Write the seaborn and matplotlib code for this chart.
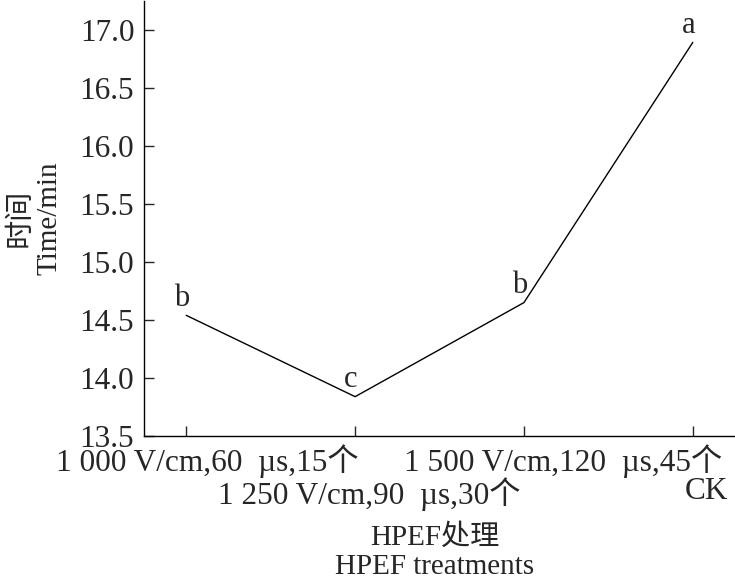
import numpy as np
import matplotlib
matplotlib.use("Agg")
import matplotlib.pyplot as plt
import matplotlib.transforms as mtransforms
import seaborn as sns

# data
treatments = [
    "1 000 V/cm,60  µs,15个",
    "1 250 V/cm,90  µs,30个",
    "1 500 V/cm,120  µs,45个",
    "CK",
]
time_min = [14.54, 13.84, 14.65, 16.89]
letters = ["b", "c", "b", "a"]

sns.set_style("ticks")
plt.rcParams["font.family"] = ["Liberation Serif", "Noto Sans CJK SC"]

fig = plt.figure(figsize=(7.35, 5.8), dpi=100)
ax = fig.add_axes([0.196, 0.248, 0.804, 0.751])

x = np.arange(len(treatments))
sns.lineplot(x=x, y=time_min, sort=False, color="black", linewidth=1.0, ax=ax)

for xi, yi, lab in zip(x, time_min, letters):
    ax.annotate(lab, (xi, yi), xytext=(-3, 7), textcoords="offset points",
                ha="center", va="baseline", fontsize=22)

ax.set_xlim(-0.25, 3.25)
ax.set_ylim(13.5, 17.25)
yt = np.arange(13.5, 17.01, 0.5)
ax.set_yticks(yt)
ax.set_yticklabels([f"{v:.1f}" for v in yt])
ax.set_xticks(x)
ax.set_xticklabels(treatments)

ax.tick_params(direction="in", length=7, width=1, labelsize=22.5)
ax.tick_params(axis="y", pad=7)
ax.tick_params(axis="x", pad=6)

# staggered tick labels, two rows, shifted a bit right as in the original
shifts_px = [(21, 0), (14, -33), (39, 0), (14, -33)]
for lbl, (dx, dy) in zip(ax.get_xticklabels(), shifts_px):
    lbl.set_transform(lbl.get_transform() +
                      mtransforms.ScaledTranslation(dx / 100, dy / 100, fig.dpi_scale_trans))

sns.despine(ax=ax)
for s in ["left", "bottom"]:
    ax.spines[s].set_linewidth(1.0)
    ax.spines[s].set_color("black")

ax.set_ylabel("时间\nTime/min", fontsize=21, linespacing=1.15)
ax.yaxis.set_label_coords(-0.185, 0.5)
ax.yaxis.label.set_verticalalignment("center")

ax.set_xlabel("HPEF处理\nHPEF treatments", fontsize=21, linespacing=1.15)
ax.xaxis.set_label_coords(0.492, -0.266)
ax.xaxis.label.set_verticalalignment("center")

fig.savefig("out.png", dpi=100)
